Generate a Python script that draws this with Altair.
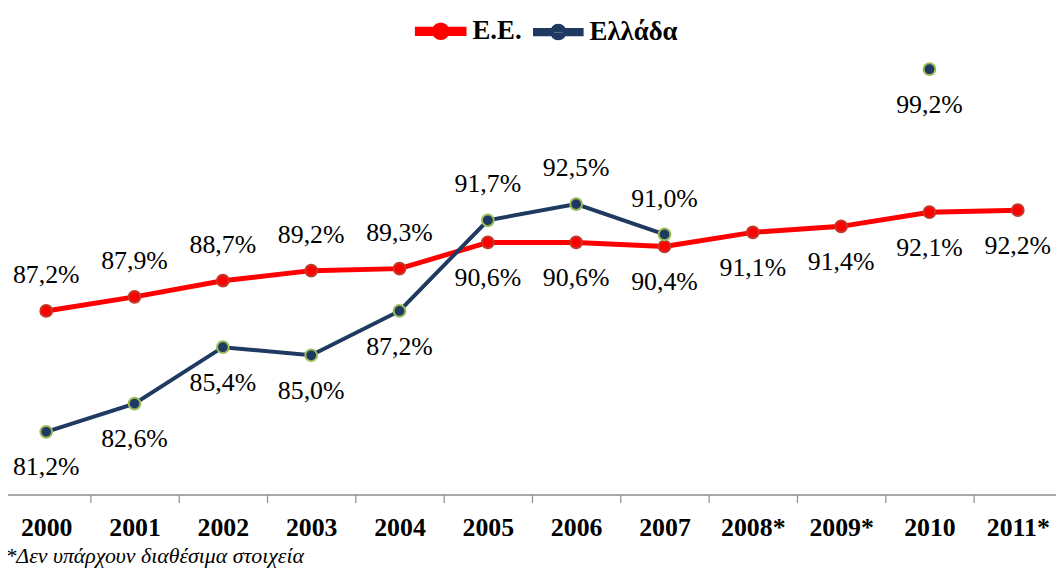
import altair as alt
import pandas as pd

years = ["2000", "2001", "2002", "2003", "2004", "2005", "2006", "2007",
         "2008*", "2009*", "2010", "2011*"]
eu_values = [87.2, 87.9, 88.7, 89.2, 89.3, 90.6, 90.6, 90.4, 91.1, 91.4, 92.1, 92.2]
gr_values = [81.2, 82.6, 85.4, 85.0, 87.2, 91.7, 92.5, 91.0, None, None, 99.2, None]
series_names = ["Ε.Ε.", "Ελλάδα"]
footnote = "*Δεν υπάρχουν διαθέσιμα στοιχεία"

rows = []
for i, y in enumerate(years):
    for name, vals in zip(series_names, [eu_values, gr_values]):
        v = vals[i]
        if name == "Ε.Ε.":
            pos = "above" if i < 5 else "below"
        else:
            pos = "above" if 5 <= i <= 7 else "below"
        rows.append({
            "year": y,
            "series": name,
            "value": v,
            "label": (f"{v:.1f}".replace(".", ",") + "%") if v is not None else "",
            "pos": pos,
        })
df = pd.DataFrame(rows)

FONT = "Liberation Serif"
line_colors = ["#FF0000", "#1F3A60"]
outline_colors = ["#C0392B", "#9BBB59"]

x_enc = alt.X(
    "year:N",
    sort=years,
    scale=alt.Scale(range=[-6, 1062], paddingInner=0, paddingOuter=0),
    axis=alt.Axis(
        title=None, labelAngle=0, labelFont=FONT, labelFontSize=26,
        labelFontWeight="bold", labelColor="black", domainColor="#8C8C8C",
        domainWidth=1.5, tickColor="#8C8C8C", tickWidth=1.2, tickSize=8,
        tickBand="extent", labelPadding=12, grid=False,
    ),
)
y_scale = alt.Scale(domain=[78.09, 102.13], nice=False, zero=False)
y_enc = alt.Y("value:Q", scale=y_scale, axis=None)

sym_path = ("M-1,-0.09H1V0.09H-1Z "
            "M-0.27,0A0.27,0.27 0 1,0 0.27,0A0.27,0.27 0 1,0 -0.27,0Z")
legend = alt.Legend(
    title=None, orient="none", legendX=410, legendY=-5, direction="horizontal",
    symbolType=sym_path, symbolSize=2209, symbolStrokeWidth=1,
    labelFont=FONT, labelFontSize=27, labelFontWeight="bold", labelColor="black",
    labelOffset=6, columnPadding=5, padding=0,
)
color_enc = alt.Color("series:N", sort=series_names,
                      scale=alt.Scale(domain=series_names, range=line_colors),
                      legend=legend)

base = alt.Chart(df)

lines = base.mark_line(invalid="break-paths-show-domains").encode(
    x=x_enc,
    y=y_enc,
    color=color_enc,
    strokeWidth=alt.StrokeWidth("series:N", scale=alt.Scale(domain=series_names, range=[5, 4]), legend=None),
    detail="series:N",
)

points = base.mark_point(filled=True, size=140, opacity=1, strokeWidth=2).encode(
    x=x_enc,
    y=y_enc,
    color=color_enc,
    stroke=alt.Stroke("series:N", sort=series_names,
                      scale=alt.Scale(domain=series_names, range=outline_colors),
                      legend=None),
).transform_filter("isValid(datum.value)")

text_style = dict(font=FONT, fontSize=26, color="black", baseline="middle", align="center")
labels_above = base.mark_text(dy=-36, **text_style).encode(
    x=x_enc, y=y_enc, text="label:N"
).transform_filter("isValid(datum.value) && datum.pos == 'above'")
labels_below = base.mark_text(dy=36, **text_style).encode(
    x=x_enc, y=y_enc, text="label:N"
).transform_filter("isValid(datum.value) && datum.pos == 'below'")

chart = alt.layer(lines, points, labels_above, labels_below).properties(
    width=1048,
    height=488,
    background="white",
    autosize=alt.AutoSizeParams(type="none"),
    padding={"left": 0, "right": 8, "top": 0, "bottom": 83},
    title=alt.TitleParams(
        text=footnote, orient="bottom", anchor="start", font=FONT, fontSize=22,
        fontStyle="italic", fontWeight="normal", color="black", offset=6, dx=4,
    ),
).configure_view(stroke=None)

chart.save("out.html", embed_options={"renderer": "svg", "actions": False})
